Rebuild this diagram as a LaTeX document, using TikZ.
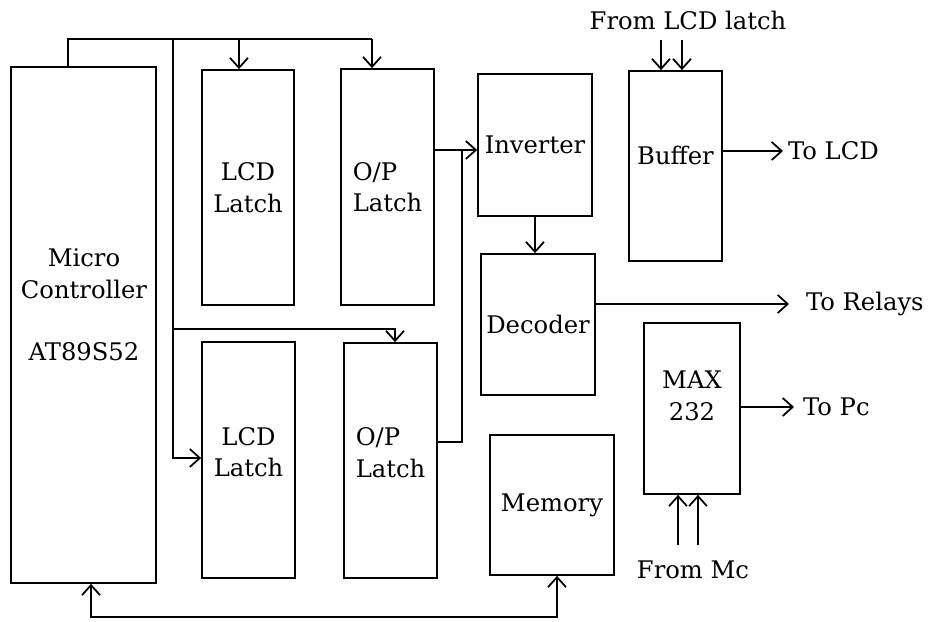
\documentclass[tikz,border=0pt]{standalone}
\usepackage{fontspec}
\setmainfont{DejaVu Serif}
\usetikzlibrary{arrows.meta}

\begin{document}
\begin{tikzpicture}[x=0.02cm, y=-0.02cm, >={Straight Barb[length=2mm,width=3.6mm]},
    font=\fontsize{13.8}{18}\selectfont]
  % Styles du schéma
  \tikzset{
    bloc/.style={draw, line width=1pt, align=center, inner sep=0pt},
    lien/.style={line width=1pt},
    fleche/.style={->, line width=1pt},
    txt/.style={align=center, inner sep=1pt}
  }
  \useasboundingbox (0,0) rectangle (928,621);

  % --- Microcontrôleur ---
  \node[bloc, minimum width=2.9cm, minimum height=10.32cm] (mc) at (83.5,325) {};
  \node[txt] (mcnom) at (84,274) {Micro\\Controller};
  \node[txt] (mcref) at (84,352) {AT89S52};

  % --- Latches ---
  \node[bloc, minimum width=1.84cm, minimum height=4.7cm] (lcdA) at (248,187.5) {LCD\\Latch};
  \node[bloc, align=left, minimum width=1.86cm, minimum height=4.72cm] (opA) at (387.5,187) {O/P\\Latch};
  \node[bloc, minimum width=1.86cm, minimum height=4.72cm,
        label={[txt, yshift=0.16cm]center:LCD\\Latch}] (lcdB) at (248.5,460) {};
  \node[bloc, align=left, minimum width=1.86cm, minimum height=4.7cm,
        label={[txt, align=left, yshift=0.16cm]center:O/P\\Latch}] (opB) at (390.5,460.5) {};

  % --- Autres blocs ---
  \node[bloc, minimum width=2.28cm, minimum height=2.84cm] (inv) at (535,145) {Inverter};
  \node[bloc, minimum width=2.28cm, minimum height=2.82cm] (dec) at (538,324.5) {Decoder};
  \node[bloc, minimum width=1.86cm, minimum height=3.8cm,
        label={[txt, yshift=0.22cm]center:Buffer}] (buf) at (675.5,166) {};
  \node[bloc, minimum width=1.92cm, minimum height=3.42cm,
        label={[txt, yshift=0.25cm]center:MAX\\232}] (max) at (692,408.5) {};
  \node[bloc, minimum width=2.48cm, minimum height=2.8cm] (mem) at (552,505) {Memory};

  % --- Textes extérieurs ---
  \node[txt] (delcd) at (688,20) {From LCD latch};
  \node[txt] (demc) at (693,570) {From Mc};
  \node[txt, anchor=west] (verslcd) at (786,151) {To LCD};
  \node[txt, anchor=west] (relais) at (804,304) {To Relays};
  \node[txt, anchor=west] (verspc) at (801,407) {To Pc};

  % --- Bus supérieur ---
  \coordinate (busG) at (68,39);
  \coordinate (busV) at (173,39);
  \coordinate (busA) at (239,39);
  \coordinate (busD) at (372,39);
  \coordinate (busB) at (173,329);
  \coordinate (busBD) at (395,329);
  \coordinate (busC) at (173,458);
  \draw[lien] (mc.north -| busG) -- (busG) -- (busD);
  \draw[fleche] (busD) -- (opA.north -| busD);
  \draw[fleche] (busA) -- (lcdA.north -| busA);
  \draw[fleche] (busV) -- (busC) -- (lcdB.west |- busC);
  \draw[fleche] (busB) -- (busBD) -- (opB.north -| busBD);

  % --- Sorties des latches vers l'inverseur ---
  \coordinate (sortA) at (462,150);
  \coordinate (sortB) at (462,442);
  \draw[fleche] (opA.east |- sortA) -- (inv.west |- sortA);
  \draw[lien] (opB.east |- sortB) -- (sortB) -- (sortA);
  \draw[fleche] (inv.south) -- (dec.north -| inv.south);

  % --- Sorties ---
  \draw[fleche] (dec.east |- relais) -- ([xshift=-0.3cm]relais.west);
  \draw[fleche] (buf.east |- verslcd) -- ([xshift=-0.06cm]verslcd.west);
  \draw[fleche] (max.east |- verspc) -- ([xshift=-0.14cm]verspc.west);

  % --- Entrées ---
  \coordinate (e1) at (661,40);
  \coordinate (e2) at (682,40);
  \draw[fleche] (e1) -- (buf.north -| e1);
  \draw[fleche] (e2) -- (buf.north -| e2);
  \coordinate (m1) at (678,545);
  \coordinate (m2) at (698,545);
  \draw[fleche] (m1) -- (max.south -| m1);
  \draw[fleche] (m2) -- (max.south -| m2);

  % --- Bus inférieur vers la mémoire ---
  \coordinate (basG) at (91,617);
  \coordinate (basD) at (557,617);
  \draw[<->, lien] (mc.south -| basG) -- (basG) -- (basD) -- (mem.south -| basD);

\end{tikzpicture}
\end{document}
